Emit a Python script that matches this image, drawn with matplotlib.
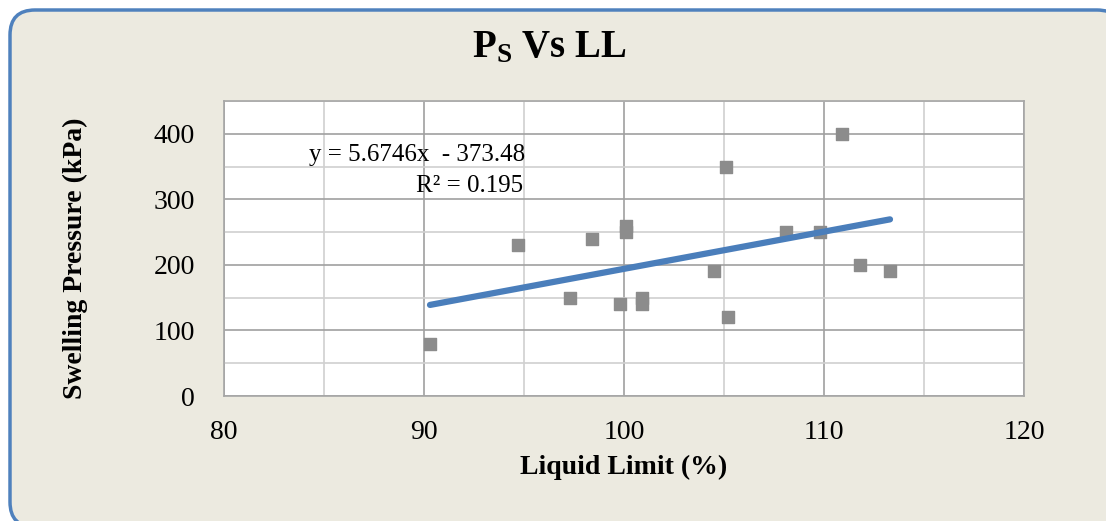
import matplotlib
matplotlib.use('Agg')
import matplotlib.pyplot as plt
import numpy as np
from matplotlib.patches import FancyBboxPatch
from matplotlib.transforms import IdentityTransform
from matplotlib.ticker import MultipleLocator

# data
liquid_limit = [90.3, 94.7, 97.3, 98.4, 99.8, 100.1, 100.1, 100.9, 100.9,
                104.5, 105.1, 105.2, 108.1, 109.8, 110.9, 111.8, 113.3]
swelling_pressure = [80, 230, 150, 240, 140, 260, 250, 150, 140,
                     190, 350, 120, 250, 250, 400, 200, 190]
slope = 5.6746
intercept = -373.48
r_squared = 0.195

plt.rcParams['font.family'] = ['Liberation Serif', 'DejaVu Serif']
plt.rcParams['mathtext.fontset'] = 'custom'
plt.rcParams['mathtext.rm'] = 'Liberation Serif'
plt.rcParams['mathtext.bf'] = 'Liberation Serif:bold'

W, H = 1106, 521
fig = plt.figure(figsize=(W / 100, H / 100), dpi=100)
fig.patch.set_facecolor('white')

# rounded chart-area frame (pixel coordinates, runs off right/bottom edges)
frame = FancyBboxPatch((10, -6), 1112, 517,
                       boxstyle='round,pad=0,rounding_size=25',
                       transform=IdentityTransform(), facecolor='#ECEAE0',
                       edgecolor='#4F81BD', linewidth=2.5, zorder=-5)
fig.patches.append(frame)

ax = fig.add_axes([224 / W, 125 / H, 800 / W, 295 / H])
ax.set_facecolor('white')

ax.set_xlim(80, 120)
ax.set_ylim(0, 450)
ax.xaxis.set_major_locator(MultipleLocator(10))
ax.xaxis.set_minor_locator(MultipleLocator(5))
ax.yaxis.set_major_locator(MultipleLocator(100))
ax.yaxis.set_minor_locator(MultipleLocator(50))
ax.grid(which='major', color='#A0A0A0', linewidth=1.2)
ax.grid(which='minor', color='#D0D0D0', linewidth=1.2)
ax.set_axisbelow(True)
for s in ax.spines.values():
    s.set_color('#A6A6A6')
    s.set_linewidth(1.2)
ax.tick_params(which='both', length=0)
ax.tick_params(axis='y', pad=21, labelsize=20)
ax.tick_params(axis='x', pad=17, labelsize=20)

ax.scatter(liquid_limit, swelling_pressure, marker='s', s=75,
           color='#8C8C8C', zorder=3)

xs = np.array([min(liquid_limit), max(liquid_limit)])
ax.plot(xs, slope * xs + intercept, color='#4A7EBB', linewidth=4.5,
        solid_capstyle='round', zorder=4)

ax.text(0.377, 0.817, 'y = %.4fx  - %.2f' % (slope, -intercept),
        transform=ax.transAxes, ha='right', va='center', fontsize=18)
ax.text(0.374, 0.712, 'R² = %.3f' % r_squared,
        transform=ax.transAxes, ha='right', va='center', fontsize=18)

fig.text(549 / W, 1 - 48 / H, r'$\mathbf{P_S}$ Vs LL', ha='center', va='center',
         fontsize=28, fontweight='bold')

fig.text(624 / W, 1 - 467 / H, 'Liquid Limit (%)', ha='center', va='center',
         fontsize=20, fontweight='bold')
fig.text(75 / W, 1 - 258 / H, 'Swelling Pressure (kPa)', ha='center', va='center',
         rotation=90, fontsize=20, fontweight='bold')

fig.savefig('out.png', dpi=100, facecolor=fig.get_facecolor())
